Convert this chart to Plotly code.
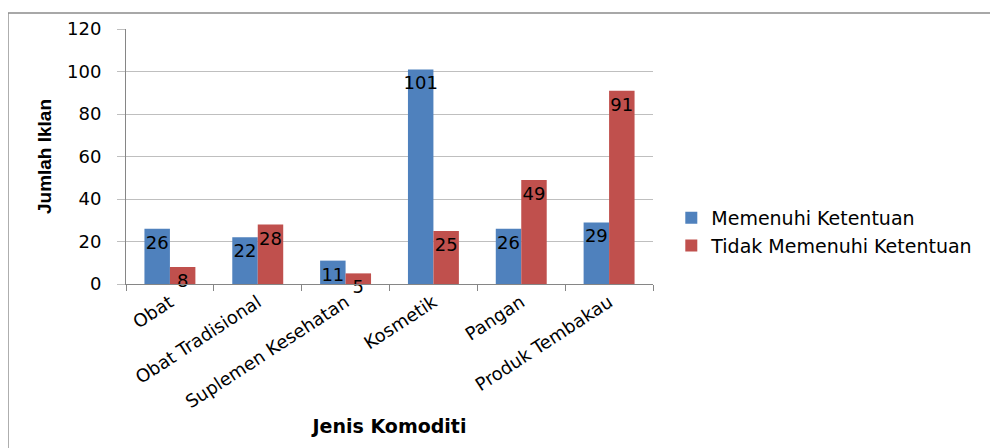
import plotly.graph_objects as go

# Data
kategori = ["Obat", "Obat Tradisional", "Suplemen Kesehatan", "Kosmetik", "Pangan", "Produk Tembakau"]
memenuhi = [26, 22, 11, 101, 26, 29]
tidak_memenuhi = [8, 28, 5, 25, 49, 91]

BIRU = "#4F81BD"
MERAH = "#C0504D"
FONT = "DejaVu Sans, Liberation Sans, Arial, sans-serif"

fig = go.Figure()

for nama, nilai, warna in [("Memenuhi Ketentuan", memenuhi, BIRU),
                           ("Tidak Memenuhi Ketentuan", tidak_memenuhi, MERAH)]:
    fig.add_trace(go.Bar(
        x=kategori, y=nilai, name=nama,
        marker=dict(color=warna, line=dict(width=0)),
        text=nilai, textposition="inside", insidetextanchor="end",
        textangle=0, constraintext="none", cliponaxis=False,
        textfont=dict(family=FONT, size=18, color="black"),
    ))

# halaman punya margin body 8px, jadi figur dibuat 990x440
fig.update_layout(
    width=990, height=440,
    margin=dict(l=118, r=345, t=21, b=164),
    paper_bgcolor="white", plot_bgcolor="white",
    barmode="group", bargap=0.42, bargroupgap=0,
    uniformtext=dict(minsize=18, mode="show"),
    font=dict(family=FONT, size=18, color="black"),
    legend=dict(
        xref="container", yref="container", x=0.670, y=0.491,
        xanchor="left", yanchor="middle",
        font=dict(family=FONT, size=19, color="black"),
        itemwidth=30, tracegroupgap=0, bgcolor="rgba(0,0,0,0)",
    ),
    showlegend=True,
)

fig.update_xaxes(
    type="category", tickangle=-33, automargin=False,
    tickfont=dict(family=FONT, size=18, color="black"),
    showline=True, linecolor="#868686", linewidth=1,
    ticks="outside", tickson="boundaries", ticklen=6, tickcolor="#868686",
    showgrid=False,
    title=dict(text="<b>Jenis Komoditi</b>",
               font=dict(family="DejaVu Sans", size=19, color="black"), standoff=8),
)

fig.update_yaxes(
    range=[0, 120], dtick=20, automargin=False,
    tickfont=dict(family=FONT, size=18, color="black"),
    showline=True, linecolor="#868686", linewidth=1,
    ticks="outside", ticklen=8, tickcolor="#BFBFBF", ticklabelstandoff=12,
    showgrid=True, gridcolor="#BFBFBF", gridwidth=1,
    zeroline=False,
    title=dict(text="<b>Jumlah Iklan</b>",
               font=dict(family="Liberation Sans Narrow, Liberation Sans", size=19, color="black"),
               standoff=10),
)

# Bingkai luar grafik
fig.add_shape(type="rect", xref="paper", yref="paper",
              x0=-0.224, x1=1.651, y0=-0.9, y1=1.063,
              line=dict(color="#8C8C8C", width=1.5), fillcolor="rgba(0,0,0,0)", layer="below")

fig.write_html("out.html")
